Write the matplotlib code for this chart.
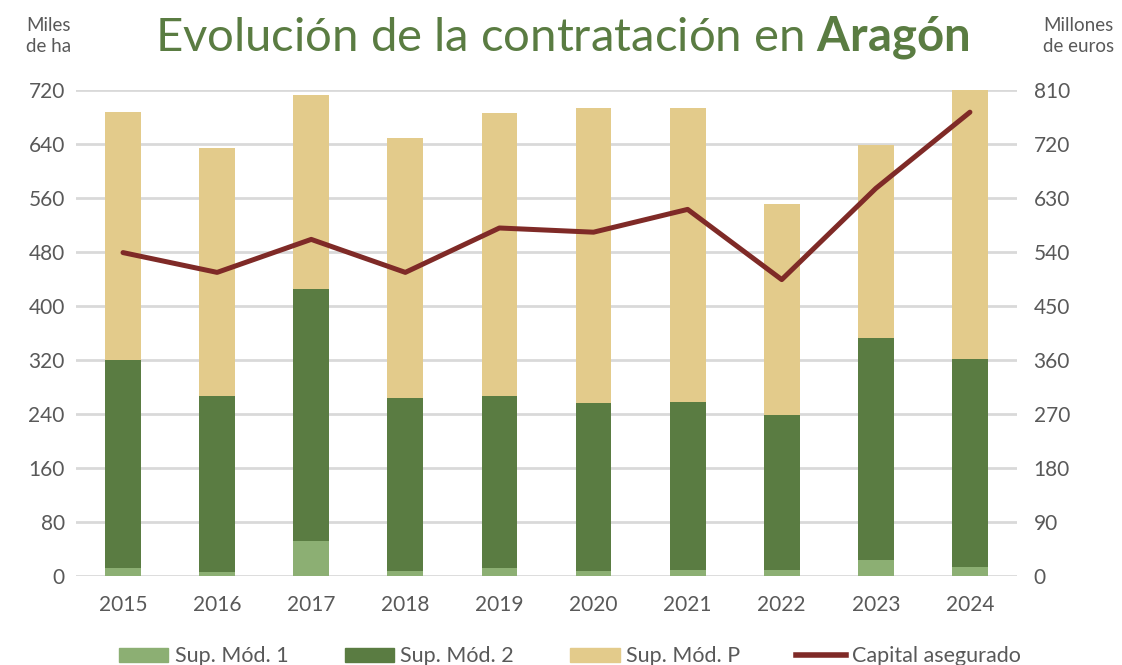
import numpy as np
import matplotlib.pyplot as plt
from matplotlib.patches import Patch
from matplotlib.lines import Line2D

plt.rcParams['font.family'] = ['Lato', 'DejaVu Sans']
plt.rcParams['mathtext.fontset'] = 'custom'
plt.rcParams['mathtext.rm'] = 'Lato'
plt.rcParams['mathtext.bf'] = 'Lato:bold'

years = ["2015", "2016", "2017", "2018", "2019", "2020", "2021", "2022", "2023", "2024"]
# miles de ha
sup_mod1 = [12, 6, 52, 7, 12, 7, 9, 9, 24, 13]
sup_mod2 = [308, 261, 373, 256, 254, 250, 249, 230, 328, 308]
sup_modp = [368, 367, 288, 386, 420, 436, 435, 312, 286, 399]
# millones de euros
capital = [539, 506, 561, 506, 580, 573, 611, 494, 646, 773]

c_mod1 = "#8CAF73"
c_mod2 = "#5A7C42"
c_modp = "#E3CB8B"
c_line = "#7F2A27"
c_text = "#595959"

fig = plt.figure(figsize=(11.22, 6.65), dpi=100)
ax = fig.add_axes([0.0677, 0.1338, 0.8387, 0.7309])

x = np.arange(len(years))
w = 0.38
b2 = np.array(sup_mod1)
bp = b2 + np.array(sup_mod2)
ax.bar(x, sup_mod1, w, color=c_mod1, zorder=2)
ax.bar(x, sup_mod2, w, bottom=b2, color=c_mod2, zorder=2)
ax.bar(x, sup_modp, w, bottom=bp, color=c_modp, zorder=2)

ax.set_xlim(-0.5, len(years) - 0.5)
ax.set_ylim(0, 720)
ax.set_yticks(range(0, 721, 80))
ax.set_xticks(x)
ax.set_xticklabels(years)
ax.grid(axis="y", color="#D9D9D9", linewidth=2, zorder=0)
ax.set_axisbelow(True)
for s in ax.spines.values():
    s.set_visible(False)
ax.tick_params(length=0, labelsize=15, colors=c_text, pad=8)
ax.tick_params(axis="x", pad=14)

ax2 = ax.twinx()
ax2.plot(x, capital, color=c_line, linewidth=3.6, zorder=3, solid_capstyle="round")
ax2.set_ylim(0, 810)
ax2.set_yticks(range(0, 811, 90))
for s in ax2.spines.values():
    s.set_visible(False)
ax2.tick_params(length=0, labelsize=15, colors=c_text, pad=12)

fig.text(0.043, 0.975, "Miles\nde ha", ha="center", va="top", fontsize=13.5,
         color=c_text, linespacing=1.3)
fig.text(0.961, 0.975, "Millones\nde euros", ha="center", va="top", fontsize=13.5,
         color=c_text, linespacing=1.3)

fig.text(0.501, 0.944, "Evolución de la contratación en $\\bf{Aragón}$", ha="center",
         va="center", fontsize=34, color=c_mod2)

handles = [
    Patch(color=c_mod1, label="Sup. Mód. 1"),
    Patch(color=c_mod2, label="Sup. Mód. 2"),
    Patch(color=c_modp, label="Sup. Mód. P"),
    Line2D([0], [0], color=c_line, linewidth=4, label="Capital asegurado"),
]
leg = fig.legend(handles=handles, loc="center", bbox_to_anchor=(0.508, 0.013), ncol=4,
                 frameon=False, fontsize=15.5, handlelength=2.3, handleheight=0.6,
                 handletextpad=0.3, columnspacing=2.6)
for t in leg.get_texts():
    t.set_color(c_text)

plt.savefig("out.png", dpi=100)
